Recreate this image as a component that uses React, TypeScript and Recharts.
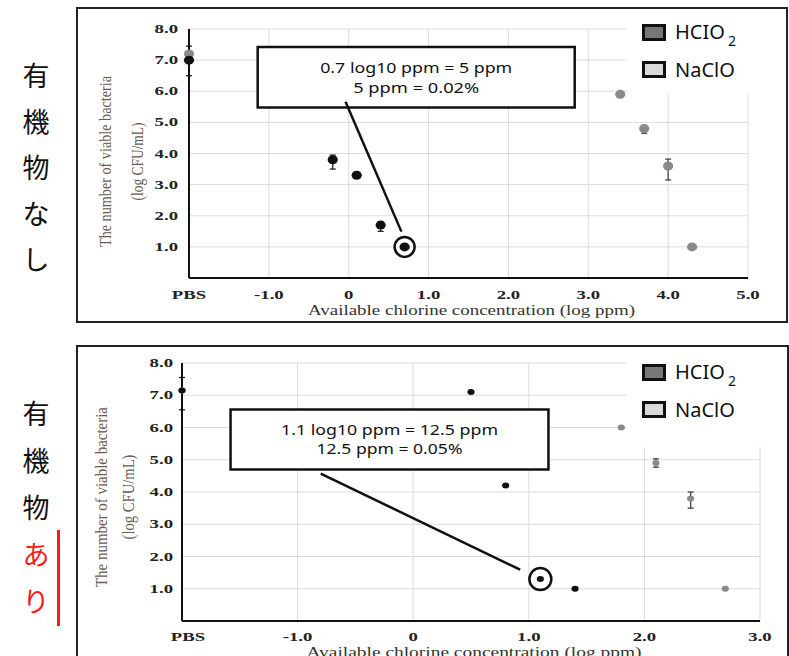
import {
  CartesianGrid,
  ErrorBar,
  Legend,
  ReferenceArea,
  ReferenceDot,
  ReferenceLine,
  Scatter,
  ScatterChart,
  XAxis,
  YAxis,
} from "recharts";

const SERIF = '"Liberation Serif", "Times New Roman", serif';
const SANS = '"Noto Sans", "Open Sans", sans-serif';
const JP = '"Noto Sans CJK JP", "Noto Sans", sans-serif';

const BLACK = "#111111";
const GRAY = "#8a8a8a";

// 有機物なし (top panel)
const topHclo2X = [-2, -0.2, 0.1, 0.4, 0.7];
const topHclo2Y = [7.0, 3.8, 3.3, 1.7, 1.0];
const topHclo2Err = [[0.5, 0.45], [0.3, 0.15], null, [0.2, 0.1], null];
const topNacloX = [-2, 3.4, 3.7, 4.0, 4.3];
const topNacloY = [7.2, 5.9, 4.8, 3.6, 1.0];
const topNacloErr = [null, null, [0.15, 0.1], [0.45, 0.22], null];
const topXTicks = [-2, -1, 0, 1, 2, 3, 4, 5];

// 有機物あり (bottom panel)
const botHclo2X = [-2, 0.5, 0.8, 1.1, 1.4];
const botHclo2Y = [7.15, 7.1, 4.2, 1.3, 1.0];
const botHclo2Err = [[0.6, 0.4], null, null, null, null];
const botNacloX = [-2, 1.8, 2.1, 2.4, 2.7];
const botNacloY = [7.15, 6.0, 4.9, 3.8, 1.0];
const botNacloErr = [null, null, [0.13, 0.13], [0.3, 0.2], null];
const botXTicks = [-2, -1, 0, 1, 2, 3];

const yTicks = [1, 2, 3, 4, 5, 6, 7, 8];

const topNote = ["0.7 log10 ppm = 5 ppm", "5 ppm  = 0.02%"];
const botNote = ["1.1 log10 ppm = 12.5 ppm", "12.5 ppm = 0.05%"];

const legendOrder = ["HCIO2", "NaClO"];
const legendFills = ["#777777", "#d9d9d9"];

const xLabelText = "Available chlorine concentration (log ppm)";
const yLabelLines = ["The number of viable bacteria", "(log CFU/mL)"];

const toPoints = (xs: number[], ys: number[], errs: (number[] | null)[]) =>
  xs.map((x, i) => ({ x, y: ys[i], err: errs[i] }));

const renderXTick = (t: any, dy: number, pbsShift: number) => {
  const v = t.payload.value;
  const text = v === -2 ? "PBS" : v === 0 ? "0" : v.toFixed(1);
  const x = t.x + (v === -2 ? pbsShift : 0);
  return (
    <text
      transform={`translate(${x},${t.y + dy}) scale(1.5,1)`}
      textAnchor="middle"
      fontFamily={SERIF}
      fontWeight="bold"
      fontSize={12.5}
      fill="#222"
    >
      {text}
    </text>
  );
};

const renderYTick = (t: any, gap: number) => (
  <text
    transform={`translate(${t.x - gap},${t.y + 4}) scale(1.5,1)`}
    textAnchor="end"
    fontFamily={SERIF}
    fontWeight="bold"
    fontSize={12.5}
    fill="#222"
  >
    {t.payload.value.toFixed(1)}
  </text>
);

const renderXLabel = (lp: any, dy: number, len: number) => {
  const vb = lp.viewBox;
  return (
    <text
      x={vb.x + vb.width / 2 + 3}
      y={vb.y + dy}
      textAnchor="middle"
      fontFamily={SERIF}
      fontSize={15}
      fill="#333"
      textLength={len}
      lengthAdjust="spacingAndGlyphs"
    >
      {xLabelText}
    </text>
  );
};

const renderYLabel = (lp: any, cfg: YLabelCfg) => {
  const vb = lp.viewBox;
  const cy = vb.y + vb.height / 2 + cfg.dy;
  return (
    <g fontFamily={SERIF} fontSize={17} fill="#6b5a4f">
      {yLabelLines.map((line, i) => {
        const cx = vb.x + cfg.dx[i];
        return (
          <text
            key={line}
            x={cx}
            y={cy}
            transform={`rotate(-90 ${cx} ${cy})`}
            textAnchor="middle"
            dominantBaseline="central"
            textLength={cfg.len[i]}
            lengthAdjust="spacingAndGlyphs"
          >
            {line}
          </text>
        );
      })}
    </g>
  );
};

const renderNote = (lines: string[], lens: number[], gap: number, shift: number) => (lp: any) => {
  const vb = lp.viewBox;
  const cx = vb.x + vb.width / 2;
  const cy = vb.y + vb.height / 2 + shift;
  return (
    <g>
      {lines.map((line, i) => (
        <text
          key={line}
          x={cx}
          y={cy + (i - 0.5) * gap}
          dy="0.36em"
          textAnchor="middle"
          fontFamily={SANS}
          fontSize={15}
          fill="#111"
          textLength={lens[i]}
          lengthAdjust="spacingAndGlyphs"
        >
          {line}
        </text>
      ))}
    </g>
  );
};

const renderLegend = (props: any) => {
  const items = [...(props.payload ?? [])].sort(
    (a: any, b: any) => legendOrder.indexOf(a.value) - legendOrder.indexOf(b.value)
  );
  return (
    <div style={{ position: "relative", width: "100%", height: "100%", background: "#fff" }}>
      {items.map((it: any, i: number) => {
        const name: string = it.value;
        const sub = /\d$/.test(name);
        return (
          <div
            key={name}
            style={{ position: "absolute", left: 15, top: 12 + i * 37.4, height: 17, display: "flex", alignItems: "center" }}
          >
            <span
              style={{
                display: "inline-block",
                width: 24,
                height: 17,
                boxSizing: "border-box",
                border: "3px solid #111",
                background: legendFills[legendOrder.indexOf(name)],
              }}
            />
            <span style={{ marginLeft: 9, fontFamily: SANS, fontSize: 20, color: "#111", lineHeight: "17px", whiteSpace: "nowrap" }}>
              {sub ? name.slice(0, -1) : name}
              {sub && (
                <span style={{ fontSize: 14, position: "relative", top: 7, marginLeft: 3 }}>{name.slice(-1)}</span>
              )}
            </span>
          </div>
        );
      })}
    </div>
  );
};

const dot = (r: number, fill: string) => (s: any) =>
  <ellipse cx={s.cx} cy={s.cy} rx={r + 0.6} ry={r} fill={fill} />;

type YLabelCfg = { dx: number[]; dy: number; len: number[] };

type PanelProps = {
  top: number;
  height: number;
  margin: { top: number; right: number; bottom: number; left: number };
  xDomain: [number, number];
  xTicks: number[];
  xAxisHeight: number;
  xTickDy: number;
  pbsShift: number;
  xLabelDy: number;
  xLabelLen: number;
  yTickGap: number;
  yLabel: YLabelCfg;
  hclo2: { x: number; y: number; err: number[] | null }[];
  naclo: { x: number; y: number; err: number[] | null }[];
  r: number;
  circled: number;
  circleR: number;
  note: string[];
  noteLens: number[];
  noteGap: number;
  noteShift: number;
  noteBox: { x1: number; x2: number; y1: number; y2: number };
  pointer: { x: number; y: number }[];
  legendHeight: number;
};

function Panel(p: PanelProps) {
  const target = p.hclo2[p.circled];
  return (
    <div style={{ position: "absolute", left: 0, top: p.top }}>
      <ScatterChart width={789} height={p.height} margin={p.margin}>
        <CartesianGrid stroke="#dcdcdc" strokeWidth={1} />
        <XAxis
          type="number"
          dataKey="x"
          domain={p.xDomain}
          ticks={p.xTicks}
          interval={0}
          height={p.xAxisHeight}
          axisLine={{ stroke: "#111", strokeWidth: 2 }}
          tickLine={false}
          tickSize={0}
          tick={(t: any) => renderXTick(t, p.xTickDy, p.pbsShift)}
          label={(lp: any) => renderXLabel(lp, p.xLabelDy, p.xLabelLen)}
        />
        <YAxis
          type="number"
          dataKey="y"
          domain={[0, 8]}
          ticks={yTicks}
          interval={0}
          width={60}
          axisLine={{ stroke: "#111", strokeWidth: 2 }}
          tickLine={false}
          tickSize={0}
          tick={(t: any) => renderYTick(t, p.yTickGap)}
          label={(lp: any) => renderYLabel(lp, p.yLabel)}
        />
        <ReferenceArea
          x1={p.noteBox.x1}
          x2={p.noteBox.x2}
          y1={p.noteBox.y1}
          y2={p.noteBox.y2}
          fill="#fff"
          fillOpacity={1}
          stroke="#111"
          strokeWidth={2.5}
          label={renderNote(p.note, p.noteLens, p.noteGap, p.noteShift)}
        />
        <ReferenceLine segment={p.pointer} stroke="#111" strokeWidth={2.5} />
        <Scatter name="NaClO" data={p.naclo} fill={GRAY} shape={dot(p.r, GRAY)} isAnimationActive={false}>
          <ErrorBar dataKey="err" direction="y" width={3} stroke="#444" strokeWidth={1.3} />
        </Scatter>
        <Scatter name="HCIO2" data={p.hclo2} fill={BLACK} shape={dot(p.r, BLACK)} isAnimationActive={false}>
          <ErrorBar dataKey="err" direction="y" width={3} stroke="#222" strokeWidth={1.3} />
        </Scatter>
        <ReferenceDot x={target.x} y={target.y} r={p.circleR} fill="none" stroke="#111" strokeWidth={2.5} />
        <Legend
          layout="horizontal"
          align="center"
          verticalAlign="middle"
          wrapperStyle={{ left: 627, top: 12, width: 158, height: p.legendHeight }}
          content={renderLegend}
        />
      </ScatterChart>
    </div>
  );
}

const charBox = (chars: string[], top: number, step: number, color: (i: number) => string) =>
  chars.map((c, i) => (
    <div
      key={i}
      style={{
        position: "absolute",
        left: 20,
        top: top + i * step - 16,
        width: 32,
        height: 32,
        lineHeight: "32px",
        textAlign: "center",
        fontFamily: JP,
        fontSize: 27,
        color: color(i),
      }}
    >
      {c}
    </div>
  ));

export default function App() {
  return (
    <div style={{ position: "absolute", left: 0, top: 0, width: 789, height: 656, overflow: "hidden", background: "#fff" }}>
      <div style={{ position: "absolute", left: 76, top: 7, width: 712, height: 316, border: "2px solid #222", boxSizing: "border-box" }} />
      <div style={{ position: "absolute", left: 76, top: 345, width: 713, height: 330, border: "2px solid #222", boxSizing: "border-box" }} />

      {charBox(["有", "機", "物", "な", "し"], 75, 46, () => "#111")}
      {charBox(["有", "機", "物", "あ", "り"], 413, 47, (i) => (i >= 3 ? "#ff1a1a" : "#111"))}
      <div style={{ position: "absolute", left: 57, top: 530, width: 3, height: 96, background: "#ff1a1a" }} />

      <Panel
        top={0}
        height={330}
        margin={{ top: 29, right: 41, bottom: 12, left: 129 }}
        xDomain={[-2, 5]}
        xTicks={topXTicks}
        xAxisHeight={40}
        xTickDy={19}
        pbsShift={0}
        xLabelDy={37}
        xLabelLen={327}
        yTickGap={9}
        yLabel={{ dx: [-24, 8], dy: 8, len: [171, 78] }}
        hclo2={toPoints(topHclo2X, topHclo2Y, topHclo2Err)}
        naclo={toPoints(topNacloX, topNacloY, topNacloErr)}
        r={4.5}
        circled={4}
        circleR={10}
        note={topNote}
        noteLens={[192, 126]}
        noteGap={20}
        noteShift={0.5}
        noteBox={{ x1: -1.14, x2: 2.83, y1: 5.48, y2: 7.42 }}
        pointer={[{ x: -0.04, y: 5.66 }, { x: 0.66, y: 1.49 }]}
        legendHeight={81}
      />
      <Panel
        top={340}
        height={316}
        margin={{ top: 23, right: 29, bottom: 0, left: 122 }}
        xDomain={[-2, 3]}
        xTicks={botXTicks}
        xAxisHeight={35}
        xTickDy={18}
        pbsShift={6}
        xLabelDy={36}
        xLabelLen={335}
        yTickGap={7}
        yLabel={{ dx: [-21, 6], dy: 5, len: [180, 85] }}
        hclo2={toPoints(botHclo2X, botHclo2Y, botHclo2Err)}
        naclo={toPoints(botNacloX, botNacloY, botNacloErr)}
        r={3}
        circled={3}
        circleR={11}
        note={botNote}
        noteLens={[217, 146]}
        noteGap={19}
        noteShift={0}
        noteBox={{ x1: -1.58, x2: 1.17, y1: 4.7, y2: 6.56 }}
        pointer={[{ x: -0.8, y: 4.57 }, { x: 0.925, y: 1.59 }]}
        legendHeight={95}
      />
    </div>
  );
}
